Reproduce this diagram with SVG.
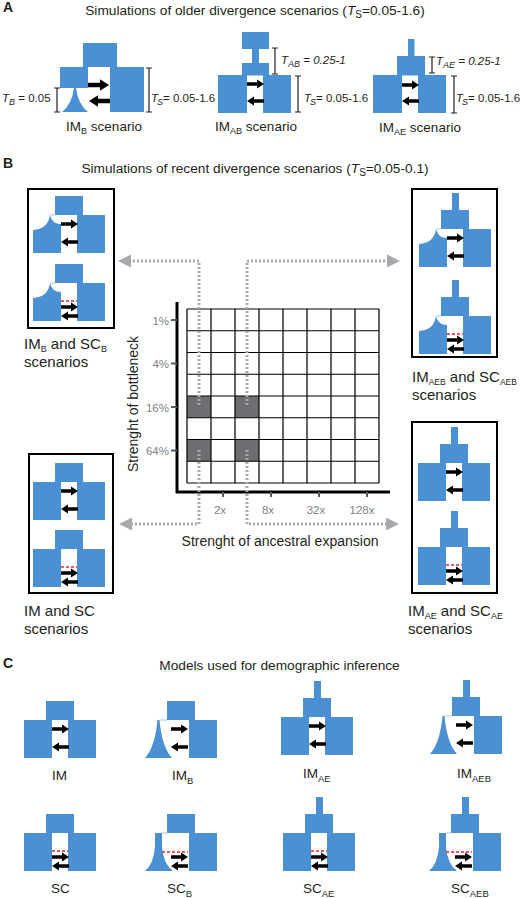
<svg xmlns="http://www.w3.org/2000/svg" xmlns:xlink="http://www.w3.org/1999/xlink" width="520" height="898" viewBox="0 0 520 898">
<style>
text{font-family:"Liberation Sans",Arial,Helvetica,sans-serif;fill:#231f20}
.hd{font-weight:bold;font-size:14px}
.ttl{font-size:13.7px}
.lab{font-size:15px}
.mlab{font-size:13.5px}
.sc{font-size:13.5px}
.par{font-size:11.5px}
.tick{font-size:11.5px;fill:#808285}
.ax{font-size:14px}
.it{font-style:italic}
.blue{fill:#4b90d2}
.box{fill:none;stroke:#000;stroke-width:2}
.bar{stroke:#231f20;stroke-width:1.2;fill:none}
.dot{fill:none;stroke:#a7a9ac;stroke-width:3;stroke-dasharray:2 2}
.ah{fill:#a7a9ac}
.grid{fill:none;stroke:#000;stroke-width:1.2}
.dk{fill:#6d6e71}
.axl{stroke:#000;stroke-width:3;fill:none}
.tk{stroke:#58595b;stroke-width:2;fill:none}
</style>
<defs>
<rect id="lb" width="28" height="38" fill="#4b90d2"/>
<rect id="rb" x="44" width="28" height="38" fill="#4b90d2"/>
<rect id="tb" x="22" y="-19" width="28" height="19" fill="#4b90d2"/>
<rect id="st" x="33" y="-36" width="7" height="17" fill="#4b90d2"/>
<g id="cusp"><path d="M0,38V15Q15,14 17,0Q19,9 28,9V38Z" fill="#4b90d2"/><path d="M17,0H22" stroke="#a9c8ea" stroke-width="1"/></g>
<g id="trI"><path d="M12.5,0H14.5Q17,27 27,38H0Q10,27 12.5,0Z" fill="#4b90d2"/><path d="M14.5,0H22" stroke="#a9c8ea" stroke-width="1"/></g>
<g id="trS"><path d="M10,0H17V14Q18.5,31 28,38H0Q8.5,31 10,14Z" fill="#4b90d2"/><path d="M17,0H22" stroke="#a9c8ea" stroke-width="1"/></g>
<path id="aR" d="M0,-1.7H10V-4.6L17,0L10,4.6V1.7H0Z" fill="#000"/>
<path id="aL" d="M17,-1.7H7V-4.6L0,0L7,4.6V1.7H17Z" fill="#000"/>
<path id="aRB" d="M0,-2.2H12V-5.8L21,0L12,5.8V2.2H0Z" fill="#000"/>
<path id="aLB" d="M21,-2.2H9V-5.8L0,0L9,5.8V2.2H21Z" fill="#000"/>
<g id="mIM"><use xlink:href="#aR" x="28" y="9"/><use xlink:href="#aL" x="28" y="27"/></g>
<g id="mIMb"><use xlink:href="#aR" x="26" y="9"/><use xlink:href="#aL" x="26" y="27"/></g>
<g id="mSC"><path d="M28,18H44" stroke="#e8252a" stroke-width="1.5" stroke-dasharray="3 2"/><use xlink:href="#aR" x="28" y="24"/><use xlink:href="#aL" x="28" y="33"/></g>
<g id="mSCb"><path d="M17,19H43" stroke="#e8252a" stroke-width="1.5" stroke-dasharray="3 2"/><use xlink:href="#aR" x="26" y="24"/><use xlink:href="#aL" x="26" y="33"/></g>
</defs>

<!-- Panel A -->
<text x="3" y="12" class="hd">A</text>
<text x="255" y="15" class="ttl" text-anchor="middle">Simulations of older divergence scenarios (<tspan class="it">T</tspan><tspan dy="3" font-size="10">S</tspan><tspan dy="-3">=0.05-1.6)</tspan></text>

<g id="a-imb">
<rect class="blue" x="83" y="43" width="34" height="24"/>
<rect class="blue" x="60" y="67" width="28" height="21"/>
<path class="blue" d="M74,88H76Q78,104 88,112H62Q72,104 74,88Z"/>
<rect class="blue" x="110" y="67" width="34" height="45"/>
<use xlink:href="#aRB" x="88" y="85"/>
<use xlink:href="#aLB" x="89" y="101"/>
<path class="bar" d="M57,88V112M54,88H60M54,112H60"/>
<path class="bar" d="M149,68V112M146,68H152M146,112H152"/>
<text x="2" y="102" class="par"><tspan class="it">T</tspan><tspan class="it" dy="3" font-size="9">B</tspan><tspan dy="-3"> = 0.05</tspan></text>
<text x="151" y="102" class="par"><tspan class="it">T</tspan><tspan class="it" dy="3" dx="-1" font-size="9">S</tspan><tspan dy="-3">= 0.05-1.6</tspan></text>
<text x="104" y="131" class="mlab" text-anchor="middle">IM<tspan dy="3" font-size="9">B</tspan><tspan dy="-3"> scenario</tspan></text>
</g>

<g id="a-imab">
<rect class="blue" x="242" y="32" width="27" height="17"/>
<rect class="blue" x="252" y="48" width="7" height="16"/>
<rect class="blue" x="242" y="63" width="27" height="12.5"/>
<rect class="blue" x="218" y="75" width="29" height="38"/>
<rect class="blue" x="263" y="75" width="28" height="38"/>
<use xlink:href="#aR" x="247" y="84"/>
<use xlink:href="#aL" x="247" y="101"/>
<path class="bar" d="M275,48V74M272,48H278M272,74H278"/>
<path class="bar" d="M298,76V112M295,76H301M295,112H301"/>
<text x="281" y="64" class="par it">T<tspan dy="3" font-size="9">AB</tspan><tspan dy="-3"> = 0.25-1</tspan></text>
<text x="304" y="102" class="par"><tspan class="it">T</tspan><tspan class="it" dy="3" dx="-1" font-size="9">S</tspan><tspan dy="-3">= 0.05-1.6</tspan></text>
<text x="256" y="131" class="mlab" text-anchor="middle">IM<tspan dy="3" font-size="9">AB</tspan><tspan dy="-3"> scenario</tspan></text>
</g>

<g id="a-imae">
<rect class="blue" x="408" y="39" width="6.5" height="18"/>
<rect class="blue" x="397" y="56" width="28" height="19.5"/>
<rect class="blue" x="373" y="75" width="29" height="38"/>
<rect class="blue" x="418" y="75" width="28" height="38"/>
<use xlink:href="#aR" x="402" y="85"/>
<use xlink:href="#aL" x="402" y="101"/>
<path class="bar" d="M432,57V73M429,57H435M429,73H435"/>
<path class="bar" d="M454,76V113M451,76H457M451,113H457"/>
<text x="436" y="65" class="par it">T<tspan dy="3" font-size="9">AE</tspan><tspan dy="-3"> = 0.25-1</tspan></text>
<text x="456" y="102" class="par"><tspan class="it">T</tspan><tspan class="it" dy="3" dx="-1" font-size="9">S</tspan><tspan dy="-3">= 0.05-1.6</tspan></text>
<text x="420" y="132" class="mlab" text-anchor="middle">IM<tspan dy="3" font-size="9">AE</tspan><tspan dy="-3"> scenario</tspan></text>
</g>

<!-- Panel B -->
<text x="3" y="168" class="hd">B</text>
<text x="255" y="173" class="ttl" text-anchor="middle">Simulations of recent divergence scenarios (<tspan class="it">T</tspan><tspan dy="3" font-size="10">S</tspan><tspan dy="-3">=0.05-0.1)</tspan></text>

<g id="b-grid">
<rect class="dk" x="187" y="396" width="24" height="21.75"/>
<rect class="dk" x="235" y="396" width="24" height="21.75"/>
<rect class="dk" x="187" y="439.5" width="24" height="21.75"/>
<rect class="dk" x="235" y="439.5" width="24" height="21.75"/>
<path class="grid" d="M187,309V483M211,309V483M235,309V483M259,309V483M283,309V483M307,309V483M331,309V483M355,309V483M379,309V483M187,309H379M187,330.75H379M187,352.5H379M187,374.25H379M187,396H379M187,417.75H379M187,439.5H379M187,461.25H379M187,483H379"/>
<path class="axl" d="M177,302V493M176,492H390"/>
<path class="tk" d="M171,320H177M171,363.5H177M171,407H177M171,450.5H177M223,492V497M271,492V497M319,492V497M367,492V497"/>
<text class="tick" x="169" y="325" text-anchor="end">1%</text>
<text class="tick" x="169" y="368" text-anchor="end">4%</text>
<text class="tick" x="169" y="412" text-anchor="end">16%</text>
<text class="tick" x="169" y="455" text-anchor="end">64%</text>
<text class="tick" x="220" y="514" text-anchor="middle">2x</text>
<text class="tick" x="268" y="514" text-anchor="middle">8x</text>
<text class="tick" x="316" y="514" text-anchor="middle">32x</text>
<text class="tick" x="362" y="514" text-anchor="middle">128x</text>
<text class="ax" transform="translate(138,404) rotate(-90)" text-anchor="middle">Strenght of bottleneck</text>
<text class="ax" x="280" y="546" text-anchor="middle">Strenght of ancestral expansion</text>
</g>

<g id="b-imb">
<rect class="box" x="28" y="189" width="86" height="139"/>
<g transform="translate(33,215)"><use xlink:href="#tb"/><use xlink:href="#cusp"/><use xlink:href="#rb"/><use xlink:href="#mIM"/></g>
<g transform="translate(33,283)"><use xlink:href="#tb"/><use xlink:href="#cusp"/><use xlink:href="#rb"/><use xlink:href="#mSC"/></g>
<text x="24" y="349" class="lab">IM<tspan dy="3" font-size="9">B</tspan><tspan dy="-3"> and SC</tspan><tspan dy="3" font-size="9">B</tspan></text>
<text x="24" y="367" class="lab">scenarios</text>
</g>

<g id="b-imaeb">
<rect class="box" x="412" y="189" width="85" height="168"/>
<g transform="translate(419,229)"><use xlink:href="#st"/><use xlink:href="#tb"/><use xlink:href="#cusp"/><use xlink:href="#rb"/><use xlink:href="#mIM"/></g>
<g transform="translate(419,316)"><use xlink:href="#st"/><use xlink:href="#tb"/><use xlink:href="#cusp"/><use xlink:href="#rb"/><use xlink:href="#mSC"/></g>
<text x="412" y="382" class="lab">IM<tspan dy="3" font-size="8.5">AEB</tspan><tspan dy="-3"> and SC</tspan><tspan dy="3" font-size="8.5">AEB</tspan></text>
<text x="412" y="400" class="lab">scenarios</text>
</g>

<g id="b-im">
<rect class="box" x="29" y="454" width="84" height="139"/>
<g transform="translate(33,482)"><use xlink:href="#tb"/><use xlink:href="#lb"/><use xlink:href="#rb"/><use xlink:href="#mIM"/></g>
<g transform="translate(33,549)"><use xlink:href="#tb"/><use xlink:href="#lb"/><use xlink:href="#rb"/><use xlink:href="#mSC"/></g>
<text x="24" y="616" class="lab">IM and SC</text>
<text x="24" y="634" class="lab">scenarios</text>
</g>

<g id="b-imae">
<rect class="box" x="412" y="422" width="85" height="171"/>
<g transform="translate(418,463)"><use xlink:href="#st"/><use xlink:href="#tb"/><use xlink:href="#lb"/><use xlink:href="#rb"/><use xlink:href="#mIM"/></g>
<g transform="translate(418,547)"><use xlink:href="#st"/><use xlink:href="#tb"/><use xlink:href="#lb"/><use xlink:href="#rb"/><use xlink:href="#mSC"/></g>
<text x="408" y="616" class="lab">IM<tspan dy="3" font-size="9">AE</tspan><tspan dy="-3"> and SC</tspan><tspan dy="3" font-size="9">AE</tspan></text>
<text x="408" y="634" class="lab">scenarios</text>
</g>

<g id="connectors">
<path class="dot" d="M199,405V261H131"/>
<polygon class="ah" points="118,261 131,254.5 131,267.5"/>
<path class="dot" d="M247,405V261H387"/>
<polygon class="ah" points="400,261 387,254.5 387,267.5"/>
<path class="dot" d="M199,450V524H132"/>
<polygon class="ah" points="119,524 132,517.5 132,530.5"/>
<path class="dot" d="M247,450V524H386"/>
<polygon class="ah" points="399,524 386,517.5 386,530.5"/>
</g>

<!-- Panel C -->
<text x="3" y="668" class="hd">C</text>
<text x="279.5" y="670" class="ttl" text-anchor="middle">Models used for demographic inference</text>

<g id="c-im"><g transform="translate(24,720)"><use xlink:href="#tb"/><use xlink:href="#lb"/><use xlink:href="#rb"/><use xlink:href="#mIM"/></g>
<text x="52" y="780" class="sc">IM</text></g>
<g id="c-imb"><g transform="translate(145,720)"><use xlink:href="#tb"/><use xlink:href="#trI"/><use xlink:href="#rb"/><use xlink:href="#mIMb"/></g>
<text x="172" y="780" class="sc">IM<tspan dy="3.5" font-size="9.5">B</tspan></text></g>
<g id="c-imae"><g transform="translate(281,717)"><use xlink:href="#st"/><use xlink:href="#tb"/><use xlink:href="#lb"/><use xlink:href="#rb"/><use xlink:href="#mIM"/></g>
<text x="303" y="778" class="sc">IM<tspan dy="3.5" font-size="9.5">AE</tspan></text></g>
<g id="c-imaeb"><g transform="translate(430,716)"><use xlink:href="#st"/><use xlink:href="#tb"/><use xlink:href="#trI"/><use xlink:href="#rb"/><use xlink:href="#mIMb"/></g>
<text x="457" y="778" class="sc">IM<tspan dy="3.5" font-size="9.5">AEB</tspan></text></g>

<g id="c-sc"><g transform="translate(24,833)"><use xlink:href="#tb"/><use xlink:href="#lb"/><use xlink:href="#rb"/><use xlink:href="#mSC"/></g>
<text x="51" y="893" class="sc">SC</text></g>
<g id="c-scb"><g transform="translate(145,833)"><use xlink:href="#tb"/><use xlink:href="#trS"/><use xlink:href="#rb"/><use xlink:href="#mSCb"/></g>
<text x="167" y="893" class="sc">SC<tspan dy="3.5" font-size="9.5">B</tspan></text></g>
<g id="c-scae"><g transform="translate(283,833)"><use xlink:href="#st"/><use xlink:href="#tb"/><use xlink:href="#lb"/><use xlink:href="#rb"/><use xlink:href="#mSC"/></g>
<text x="303" y="893" class="sc">SC<tspan dy="3.5" font-size="9.5">AE</tspan></text></g>
<g id="c-scaeb"><g transform="translate(429,833)"><use xlink:href="#st"/><use xlink:href="#tb"/><use xlink:href="#trS"/><use xlink:href="#rb"/><use xlink:href="#mSCb"/></g>
<text x="451" y="893" class="sc">SC<tspan dy="3.5" font-size="9.5">AEB</tspan></text></g>
</svg>
